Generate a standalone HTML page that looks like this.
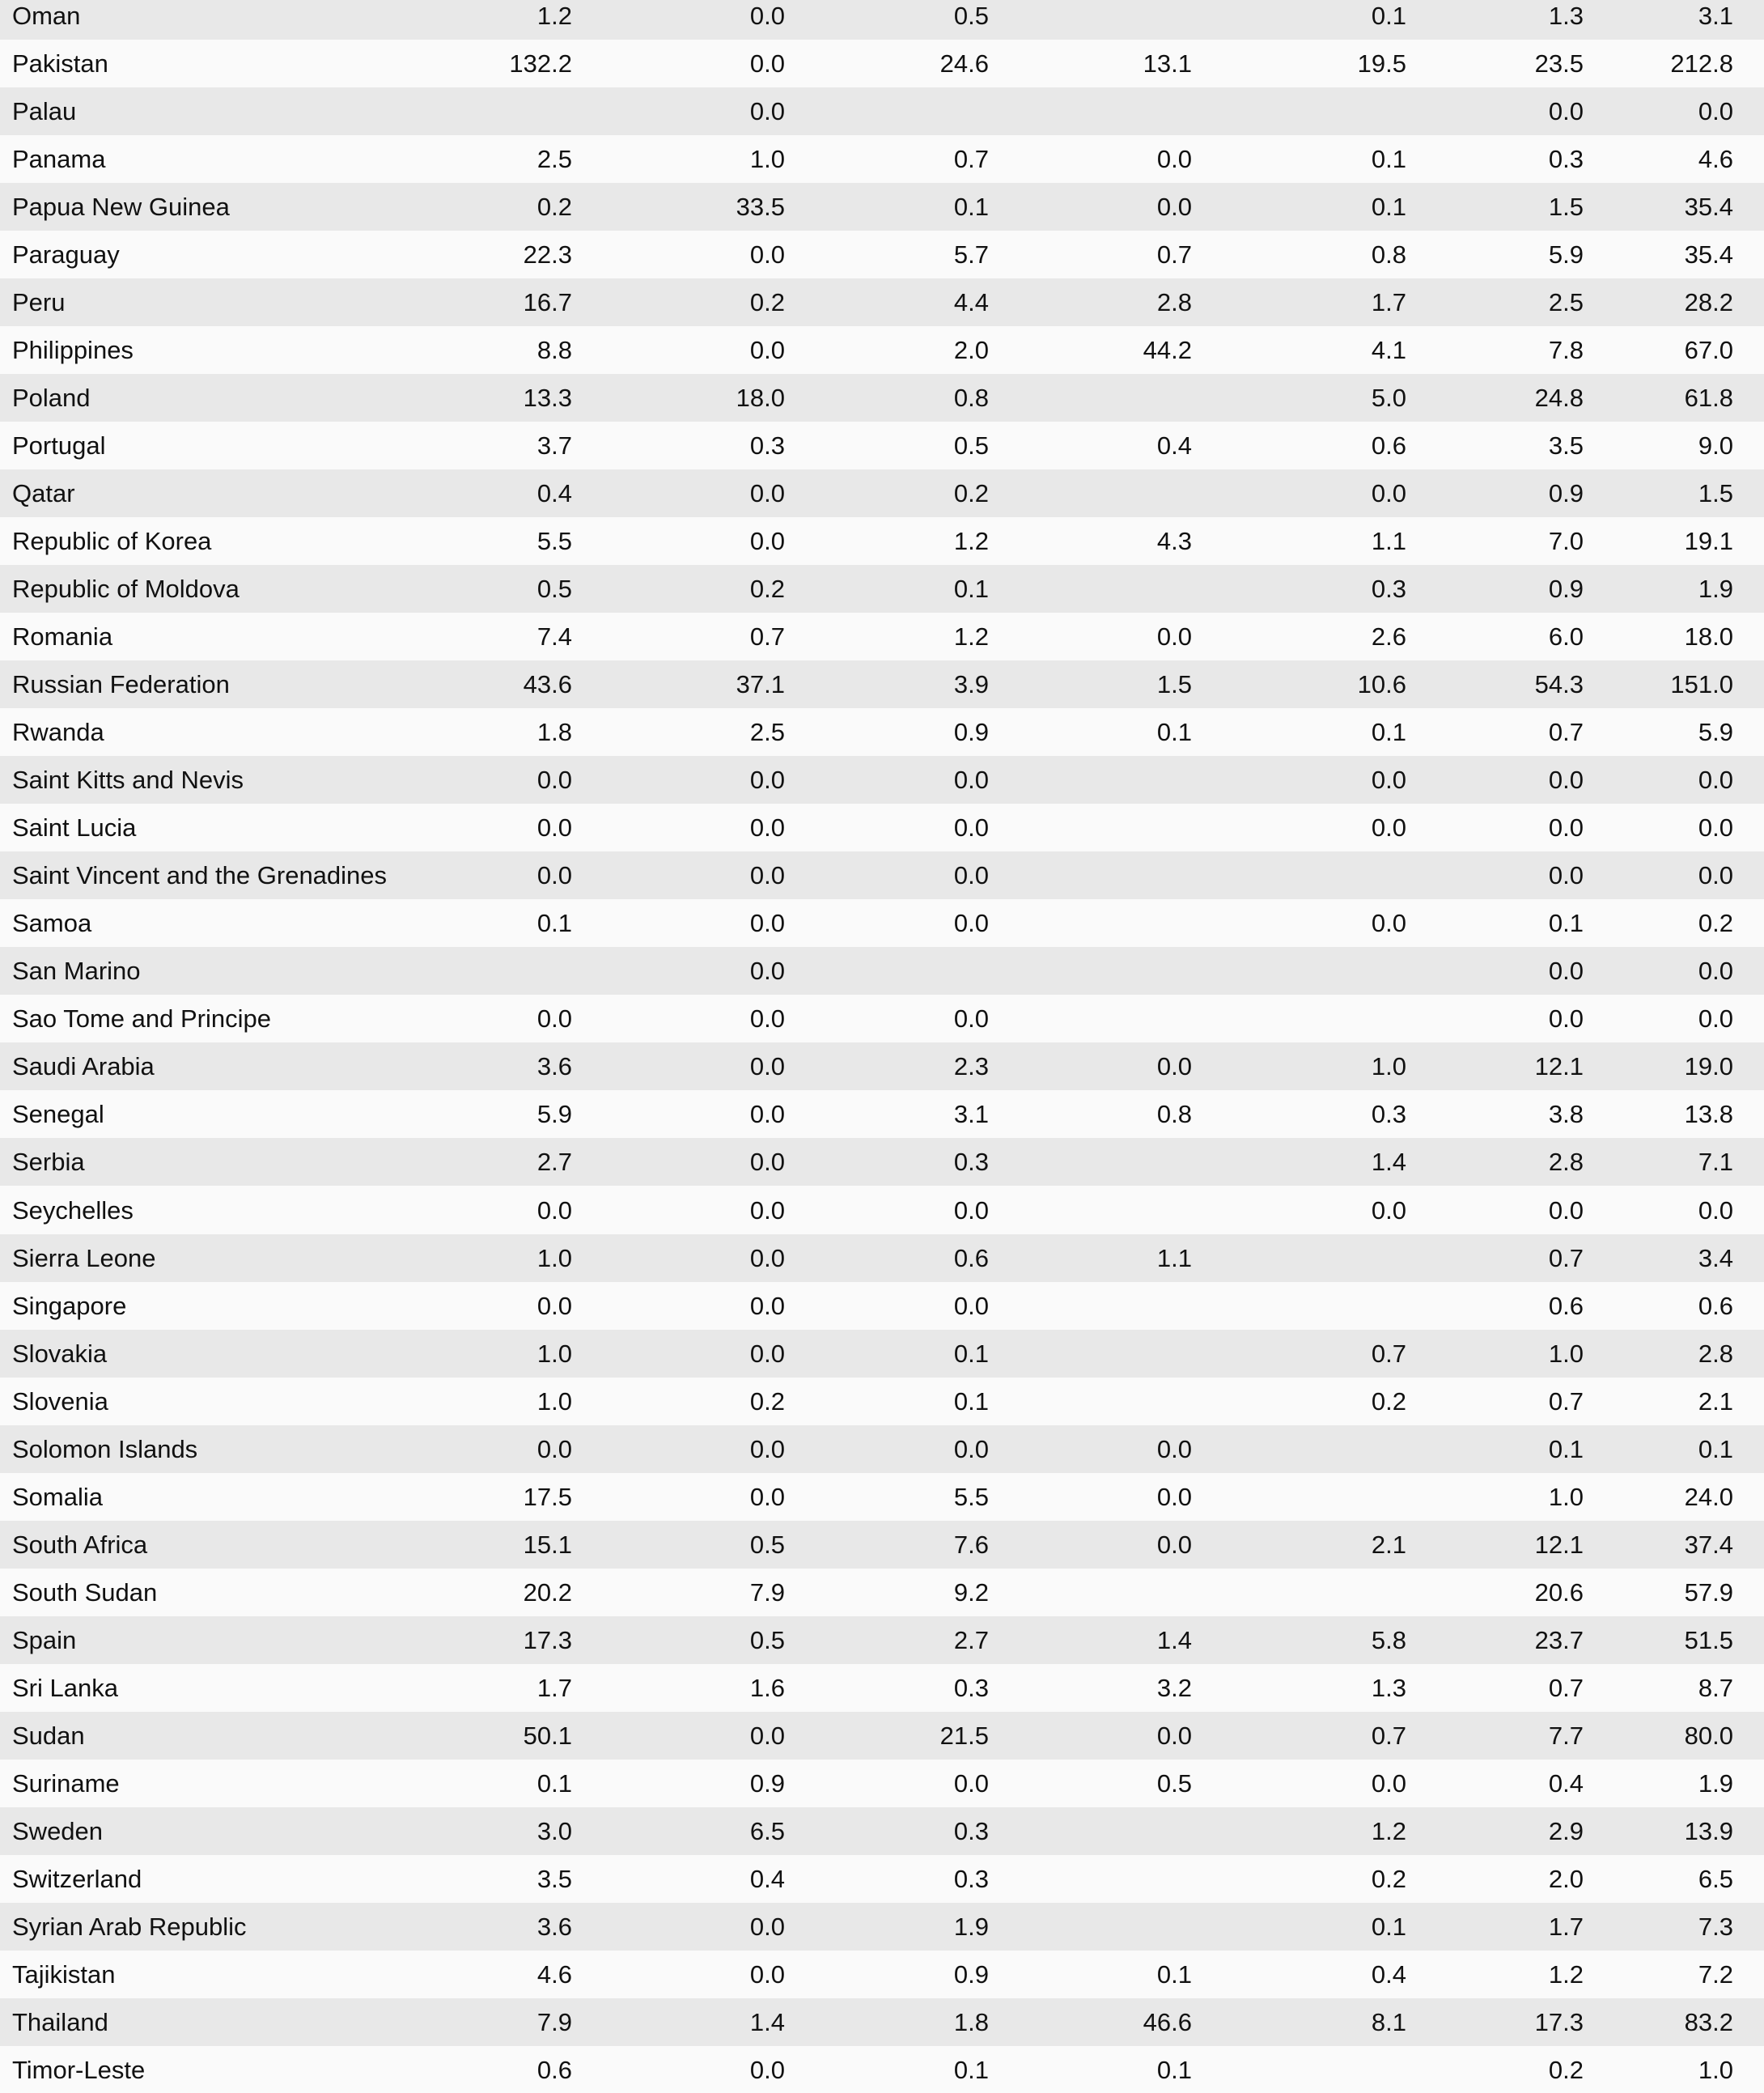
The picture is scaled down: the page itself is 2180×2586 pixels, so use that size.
<!DOCTYPE html>
<html><head><meta charset="utf-8"><style>
html,body{margin:0;padding:0;background:#fafafa;}
#t{position:relative;width:2180px;height:2586px;overflow:hidden;font-family:"Liberation Sans",sans-serif;font-size:31px;color:#111;}
.r{position:absolute;left:0;width:2180px;height:59px;}
.c{position:absolute;top:0;line-height:59px;white-space:nowrap;}
.n{text-align:right;width:200px;}
</style></head><body>
<div id="t"></div>
<script>
const countries=["Oman","Pakistan","Palau","Panama","Papua New Guinea","Paraguay","Peru","Philippines","Poland","Portugal","Qatar","Republic of Korea","Republic of Moldova","Romania","Russian Federation","Rwanda","Saint Kitts and Nevis","Saint Lucia","Saint Vincent and the Grenadines","Samoa","San Marino","Sao Tome and Principe","Saudi Arabia","Senegal","Serbia","Seychelles","Sierra Leone","Singapore","Slovakia","Slovenia","Solomon Islands","Somalia","South Africa","South Sudan","Spain","Sri Lanka","Sudan","Suriname","Sweden","Switzerland","Syrian Arab Republic","Tajikistan","Thailand","Timor-Leste"];
const col1=["1.2","132.2","","2.5","0.2","22.3","16.7","8.8","13.3","3.7","0.4","5.5","0.5","7.4","43.6","1.8","0.0","0.0","0.0","0.1","","0.0","3.6","5.9","2.7","0.0","1.0","0.0","1.0","1.0","0.0","17.5","15.1","20.2","17.3","1.7","50.1","0.1","3.0","3.5","3.6","4.6","7.9","0.6"];
const col2=["0.0","0.0","0.0","1.0","33.5","0.0","0.2","0.0","18.0","0.3","0.0","0.0","0.2","0.7","37.1","2.5","0.0","0.0","0.0","0.0","0.0","0.0","0.0","0.0","0.0","0.0","0.0","0.0","0.0","0.2","0.0","0.0","0.5","7.9","0.5","1.6","0.0","0.9","6.5","0.4","0.0","0.0","1.4","0.0"];
const col3=["0.5","24.6","","0.7","0.1","5.7","4.4","2.0","0.8","0.5","0.2","1.2","0.1","1.2","3.9","0.9","0.0","0.0","0.0","0.0","","0.0","2.3","3.1","0.3","0.0","0.6","0.0","0.1","0.1","0.0","5.5","7.6","9.2","2.7","0.3","21.5","0.0","0.3","0.3","1.9","0.9","1.8","0.1"];
const col4=["","13.1","","0.0","0.0","0.7","2.8","44.2","","0.4","","4.3","","0.0","1.5","0.1","","","","","","","0.0","0.8","","","1.1","","","","0.0","0.0","0.0","","1.4","3.2","0.0","0.5","","","","0.1","46.6","0.1"];
const col5=["0.1","19.5","","0.1","0.1","0.8","1.7","4.1","5.0","0.6","0.0","1.1","0.3","2.6","10.6","0.1","0.0","0.0","","0.0","","","1.0","0.3","1.4","0.0","","","0.7","0.2","","","2.1","","5.8","1.3","0.7","0.0","1.2","0.2","0.1","0.4","8.1",""];
const col6=["1.3","23.5","0.0","0.3","1.5","5.9","2.5","7.8","24.8","3.5","0.9","7.0","0.9","6.0","54.3","0.7","0.0","0.0","0.0","0.1","0.0","0.0","12.1","3.8","2.8","0.0","0.7","0.6","1.0","0.7","0.1","1.0","12.1","20.6","23.7","0.7","7.7","0.4","2.9","2.0","1.7","1.2","17.3","0.2"];
const col7=["3.1","212.8","0.0","4.6","35.4","35.4","28.2","67.0","61.8","9.0","1.5","19.1","1.9","18.0","151.0","5.9","0.0","0.0","0.0","0.2","0.0","0.0","19.0","13.8","7.1","0.0","3.4","0.6","2.8","2.1","0.1","24.0","37.4","57.9","51.5","8.7","80.0","1.9","13.9","6.5","7.3","7.2","83.2","1.0"];
const cols=[col1,col2,col3,col4,col5,col6,col7];
const rightEdges=[707,970,1222,1473,1738,1957,2142];
const t=document.getElementById('t');
countries.forEach((c,i)=>{
  const r=document.createElement('div');
  r.className='r';
  
  
  r.style.top=(-10+i*59.02)+'px';
  r.style.background=(i%2===0)?'#e8e8e8':'#fafafa';
  const l=document.createElement('div');
  l.className='c';
  
  
  l.style.left='15px';
  l.textContent=c;
  r.appendChild(l);
  cols.forEach((col,j)=>{
    const d=document.createElement('div');
    d.className='c n';
    
    
    d.style.left=(rightEdges[j]-200)+'px';
    d.textContent=col[i];
    r.appendChild(d);
  });
  t.appendChild(r);
});
</script>
</body></html>
